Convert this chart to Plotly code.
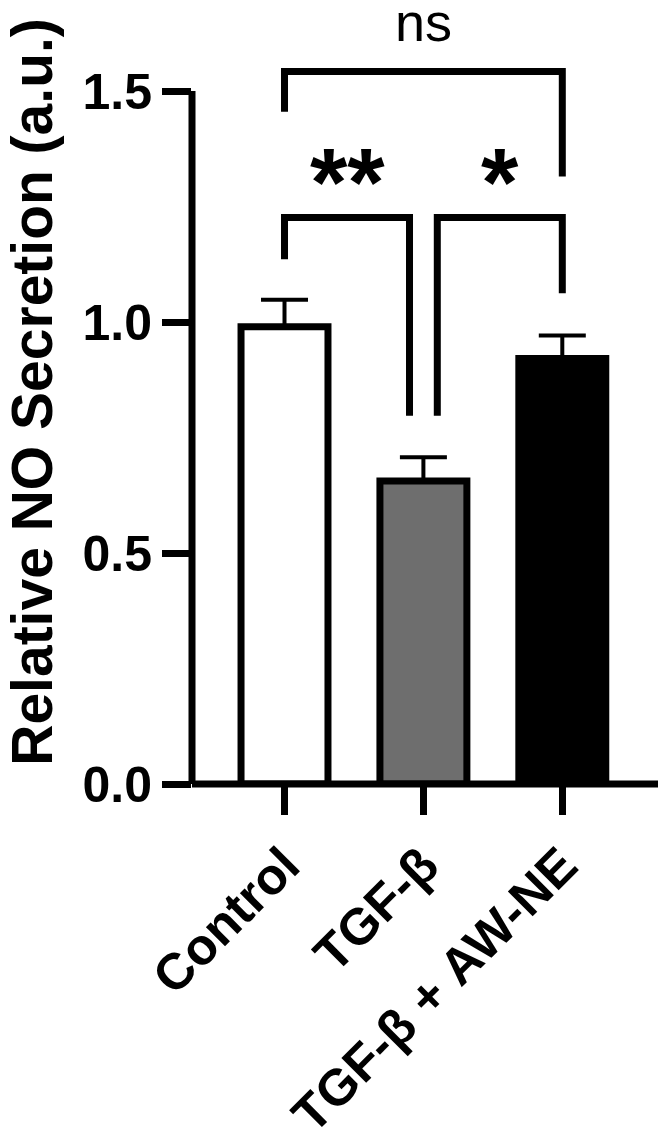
import plotly.graph_objects as go

# ---- data ----
categories = ["Control", "TGF-β", "TGF-β + AW-NE"]
means = [0.99, 0.656, 0.921]
errors = [0.058, 0.051, 0.05]
bar_colors = ["#ffffff", "#6e6e6e", "#000000"]

y_ticks = [0.0, 0.5, 1.0, 1.5]
y_tick_text = ["0.0", "0.5", "1.0", "1.5"]

# significance brackets: pair of bar indices, bracket height, leg bottoms, label
comp_pairs = [(0, 1), (1, 2), (0, 2)]
comp_heights = [1.226, 1.226, 1.542]
comp_left_ends = [1.136, 0.797, 1.455]
comp_right_ends = [0.797, 1.062, 1.315]
comp_labels = ["**", "*", "ns"]

# ---- style ----
LW = 7
leg_offsets = [(0.0, -0.1), (0.1, 0.0), (0.0, 0.0)]
label_shift = [36, 36, 50]
label_fonts = [
    dict(family="Liberation Sans", size=96, color="black", weight="bold"),
    dict(family="Liberation Sans", size=96, color="black", weight="bold"),
    dict(family="Liberation Sans", size=54, color="black"),
]

x_idx = list(range(len(categories)))

fig = go.Figure()
fig.add_trace(go.Bar(
    x=x_idx, y=means, width=0.626,
    marker=dict(color=bar_colors, line=dict(color="black", width=LW)),
    error_y=dict(type="data", symmetric=False, array=errors, arrayminus=[0] * len(errors),
                 color="black", thickness=4, width=23.5),
    showlegend=False,
))

shapes = []
annotations = []
for (a, b), h, le, re, lab, (oa, ob), ys, fnt in zip(comp_pairs, comp_heights, comp_left_ends,
                                                    comp_right_ends, comp_labels, leg_offsets,
                                                    label_shift, label_fonts):
    xa = a + oa
    xb = b + ob
    shapes.append(dict(type="path", xref="x", yref="y",
                       path=f"M {xa} {le} L {xa} {h} L {xb} {h} L {xb} {re}",
                       line=dict(color="black", width=LW)))
    annotations.append(dict(x=(xa + xb) / 2, y=h, xref="x", yref="y", text=lab,
                            showarrow=False, yanchor="middle", yshift=ys, font=fnt,
                            borderpad=0))

# y axis line from 0 to 1.5 (drawn at left plot edge)
shapes.append(dict(type="line", xref="paper", yref="y", x0=0, x1=0, y0=0, y1=y_ticks[-1],
                   line=dict(color="black", width=LW)))
# x axis line
shapes.append(dict(type="line", xref="paper", yref="paper", x0=0, x1=1, y0=0, y1=0,
                   line=dict(color="black", width=LW)))

fig.update_layout(
    width=662, height=1143,
    margin=dict(l=192, r=4, t=0, b=359),
    paper_bgcolor="white", plot_bgcolor="white",
    shapes=shapes, annotations=annotations,
    font=dict(family="Liberation Sans", color="black"),
)
fig.update_xaxes(
    range=[-0.666, 2.689], tickvals=x_idx, ticktext=categories,
    tickangle=-45, ticks="outside", ticklen=30, tickwidth=LW, tickcolor="black",
    showline=False, showgrid=False, zeroline=False, automargin=False,
    tickfont=dict(family="Liberation Sans", size=51, color="black", weight="bold"),
)
fig.update_yaxes(
    range=[0, 1.697], tickvals=y_ticks, ticktext=y_tick_text,
    ticks="outside", ticklen=29, tickwidth=LW, tickcolor="black",
    showline=False, showgrid=False, zeroline=False, automargin=False,
    tickfont=dict(family="Liberation Sans", size=50, color="black", weight="bold"),
    title=dict(text="Relative NO Secretion (a.u.)", standoff=22,
               font=dict(family="Liberation Sans", size=57, color="black", weight="bold")),
)

fig.write_html("out.html")
